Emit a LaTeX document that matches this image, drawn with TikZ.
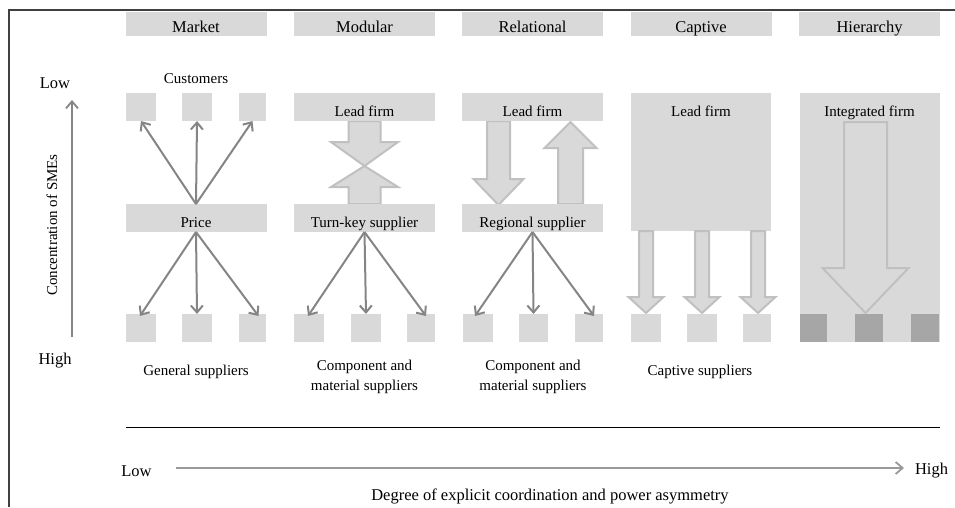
\documentclass[tikz,border=0pt]{standalone}
\usepackage{fontspec}
\setmainfont{Liberation Serif}
\usetikzlibrary{arrows.meta}
\definecolor{boxgray}{HTML}{D9D9D9}
\definecolor{edgegray}{HTML}{C0C0C0}
\definecolor{arrgray}{HTML}{858585}
\definecolor{axgray}{HTML}{999999}
\definecolor{darkbox}{HTML}{A6A6A6}
\definecolor{framecol}{HTML}{404040}
\newcommand\blockarr[6]{\draw[blockarrow] (#1-#5,#2) -- (#1+#5,#2) -- (#1+#5,#3) -- (#1+#6,#3) -- (#1,#4) -- (#1-#6,#3) -- (#1-#5,#3) -- cycle;}
\begin{document}
\begin{tikzpicture}[x=1pt,y=-1pt,
  box/.style={fill=boxgray, draw=none, inner sep=0pt, outer sep=0pt},
  hdr/.style={box, minimum width=141pt, minimum height=24pt, text height=20.5pt, text depth=3.5pt, font=\fontsize{16.5}{18}\selectfont},
  wide/.style={box, minimum width=141pt, minimum height=28pt, text height=23.5pt, text depth=4.5pt, font=\fontsize{15}{17}\selectfont},
  sq/.style={box, minimum height=28pt},
  dsq/.style={fill=darkbox, draw=none, inner sep=0pt, minimum height=28pt},
  lbl/.style={inner sep=0pt, font=\fontsize{15}{20}\selectfont, align=center},
  axlbl/.style={inner sep=0pt, font=\fontsize{16.5}{18}\selectfont},
  thinarr/.style={draw=arrgray, line width=2pt, -{Straight Barb[length=7pt,width=12pt,line width=2pt]}},
  axarr/.style={draw=arrgray, line width=2pt, -{Straight Barb[length=7pt,width=12pt,line width=1.8pt]}},
  blockarrow/.style={fill=boxgray, draw=edgegray, line width=2pt, line join=miter}
]
\useasboundingbox (0,0) rectangle (955,507);
% frame
\coordinate (fbl) at (9,507);
\coordinate (ftl) at (9,10);
\coordinate (ftr) at (955,10);
\draw[framecol, line width=1.5pt] (fbl) -- (ftl) -- (ftr);

% headers
\node[hdr] (hmarket) at (196,24) {Market};
\node[hdr] (hmodular) at (364.5,24) {Modular};
\node[hdr] (hrelational) at (532.5,24) {Relational};
\node[hdr] (hcaptive) at (701,24) {Captive};
\node[hdr] (hhierarchy) at (869.5,24) {Hierarchy};

% left axis
\node[axlbl, anchor=base] (lowl) at (55,88) {Low};
\node[axlbl, anchor=base] (highl) at (55,364) {High};
\coordinate (vbot) at (72,337);
\coordinate (vtop) at (72,100);
\draw[axarr] (vbot) -- (vtop);
\node[axlbl, rotate=90, font=\fontsize{15}{17}\selectfont] (conc) at (52,225) {Concentration of SMEs};

% ---------- Market ----------
\node[lbl, anchor=base] (customers) at (196,83) {Customers};
\node[sq, minimum width=30pt] (mt1) at (141,107) {};
\node[sq, minimum width=30pt] (mt2) at (197,107) {};
\node[sq, minimum width=27pt] (mt3) at (252.5,107) {};
\node[wide] (price) at (196,218) {Price};
\node[sq, minimum width=30pt] (mb1) at (141,328) {};
\node[sq, minimum width=30pt] (mb2) at (197,328) {};
\node[sq, minimum width=27pt] (mb3) at (252.5,328) {};
\draw[thinarr] (price.north) -- (mt1.south);
\draw[thinarr] (price.north) -- (mt2.south);
\draw[thinarr] (price.north) -- (mt3.south);
\draw[thinarr] (price.south) -- ([xshift=-1pt,yshift=-2pt]mb1.north);
\draw[thinarr] (price.south) -- (mb2.north);
\draw[thinarr] (price.south) -- ([xshift=6pt,yshift=-2pt]mb3.north);
\node[lbl] (gensup) at (196,372) {General suppliers};

% ---------- Modular ----------
\blockarr{364.5}{121}{142}{166}{16}{33.5}
\blockarr{364.5}{204}{187}{166}{16}{33.5}
\node[wide] (leadmod) at (364.5,107) {Lead firm};
\node[wide] (turnkey) at (364.5,218) {Turn-key supplier};
\node[sq, minimum width=30pt] (db1) at (309,328) {};
\node[sq, minimum width=30pt] (db2) at (366,328) {};
\node[sq, minimum width=28pt] (db3) at (421,328) {};
\draw[thinarr] (turnkey.south) -- ([xshift=-1pt,yshift=-2pt]db1.north);
\draw[thinarr] (turnkey.south) -- (db2.north);
\draw[thinarr] (turnkey.south) -- ([xshift=5pt,yshift=-2pt]db3.north);
\node[lbl] (compmod) at (364.5,377) {Component and\\material suppliers};

% ---------- Relational ----------
\blockarr{498.5}{121}{179}{205}{11.5}{25}
\blockarr{570.5}{204}{148}{122}{12.5}{26}
\node[wide] (leadrel) at (532.5,107) {Lead firm};
\node[wide] (regional) at (532.5,218) {Regional supplier};
\node[sq, minimum width=30pt] (rb1) at (478,328) {};
\node[sq, minimum width=29pt] (rb2) at (533.5,328) {};
\node[sq, minimum width=28pt] (rb3) at (589,328) {};
\draw[thinarr] (regional.south) -- ([xshift=-3pt,yshift=-2pt]rb1.north);
\draw[thinarr] (regional.south) -- (rb2.north);
\draw[thinarr] (regional.south) -- ([xshift=5pt,yshift=-2pt]rb3.north);
\node[lbl] (comprel) at (533,377) {Component and\\material suppliers};

% ---------- Captive ----------
\node[box, minimum width=140pt, minimum height=138pt] (capbox) at (701,162) {};
\node[lbl, anchor=base] (leadcap) at (701,116) {Lead firm};
\blockarr{646}{231}{297}{313}{7}{17.5}
\blockarr{702}{231}{297}{313}{7}{17.5}
\blockarr{758}{231}{297}{313}{7}{17.5}
\node[sq, minimum width=30pt] (cb1) at (646,328) {};
\node[sq, minimum width=30pt] (cb2) at (702,328) {};
\node[sq, minimum width=28pt] (cb3) at (757,328) {};
\node[lbl] (capsup) at (700,372) {Captive suppliers};

% ---------- Hierarchy ----------
\node[box, minimum width=140pt, minimum height=249pt] (hierbox) at (869.5,217.5) {};
\node[lbl, anchor=base] (intfirm) at (869.5,116) {Integrated firm};
\blockarr{865.5}{122}{268}{313}{21.5}{43}
\node[dsq, minimum width=27pt] (hb1) at (813.5,328) {};
\node[dsq, minimum width=28pt] (hb2) at (869,328) {};
\node[dsq, minimum width=28pt] (hb3) at (925,328) {};

% ---------- bottom ----------
\coordinate (rulel) at (126,427);
\coordinate (ruler) at (940,427);
\draw[black, line width=1pt] (rulel) -- (ruler);
\node[axlbl] (lowb) at (136.5,471) {Low};
\node[axlbl] (highb) at (931.5,471) {High};
\coordinate (hstart) at (176,468);
\coordinate (hend) at (904,468);
\draw[axarr, draw=axgray, line width=2.5pt] (hstart) -- (hend);
\node[axlbl] (caption) at (550,496) {Degree of explicit coordination and power asymmetry};
\end{tikzpicture}
\end{document}
